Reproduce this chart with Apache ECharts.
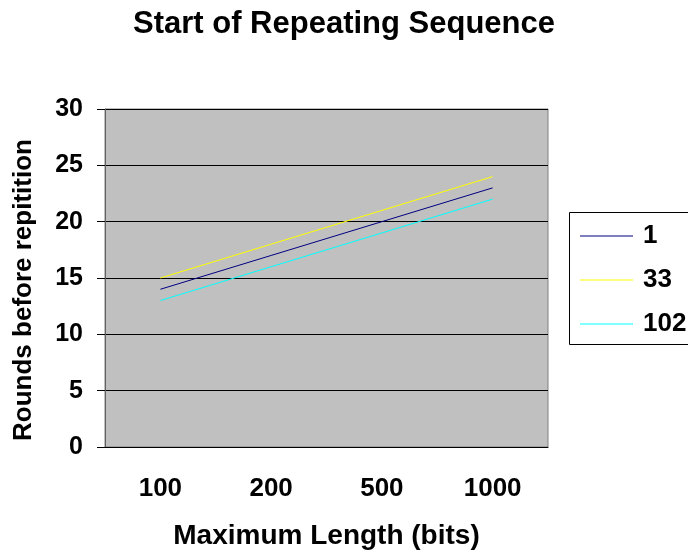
<!DOCTYPE html>
<html>
<head>
<meta charset="utf-8">
<script src="https://cdn.jsdelivr.net/npm/echarts@6/dist/echarts.min.js"></script>
<style>
  html, body { margin: 0; padding: 0; background: #fff; }
  #chart { width: 688px; height: 552px; }
</style>
</head>
<body>
<div id="chart"></div>
<script>
// ---- data ----
const categories = ["100", "200", "500", "1000"];
const seriesNames = ["1", "33", "102"];
const s1 = [14, 17, 20, 23];
const s33 = [15, 18, 21, 24];
const s102 = [13, 16, 19, 22];
const colors = ["#000080", "#ffff00", "#00ffff"];

const font = "Arial, 'Liberation Sans', sans-serif";
const chart = echarts.init(document.getElementById("chart"));

chart.setOption({
  animation: false,
  title: {
    text: "Start of Repeating Sequence",
    left: "center", top: 4,
    textStyle: { fontFamily: font, fontSize: 31, fontWeight: "bold", color: "#000" },
  },
  graphic: [{
    type: "rect", z: 0,
    shape: { x: 569.5, y: 212.5, width: 130, height: 132 },
    style: { fill: "#fff", stroke: "#000", lineWidth: 1 },
  }],
  legend: {
    orient: "vertical", left: 575, top: 218, z: 10,
    icon: "rect", itemWidth: 53, itemHeight: 1.2, itemGap: 18,
    data: seriesNames,
    textStyle: { fontFamily: font, fontSize: 26, lineHeight: 26, fontWeight: "bold", color: "#000", padding: [0, 0, 0, 5] },
  },
  grid: {
    left: 105, right: 140, top: 109, bottom: 105, outerBoundsMode: "none",
    show: true, backgroundColor: "#c0c0c0", borderColor: "#808080", borderWidth: 1,
  },
  xAxis: {
    type: "category", data: categories, boundaryGap: true,
    name: "Maximum Length (bits)", nameLocation: "middle", nameGap: 75,
    nameTextStyle: { fontFamily: font, fontSize: 28, fontWeight: "bold", color: "#000" },
    axisLine: { lineStyle: { color: "#000" } },
    axisTick: { length: 8, lineStyle: { color: "#808080" } },
    axisLabel: { margin: 29, fontFamily: font, fontSize: 26, fontWeight: "bold", color: "#000" },
  },
  yAxis: {
    type: "value", min: 0, max: 30, interval: 5,
    name: "Rounds before repitition", nameLocation: "middle", nameGap: 68,
    nameTextStyle: { fontFamily: font, fontSize: 26, fontWeight: "bold", color: "#000", padding: [0, 24, 0, 0] },
    axisLine: { show: true, lineStyle: { color: "#606060" } },
    axisTick: { show: true, length: 8, lineStyle: { color: "#000" } },
    axisLabel: { margin: 22, fontFamily: font, fontSize: 25, fontWeight: "bold", color: "#000" },
    splitLine: { lineStyle: { color: "#000", width: 1 } },
  },
  series: [
    { name: seriesNames[0], type: "line", data: s1, symbol: "none", lineStyle: { color: colors[0], width: 1 }, itemStyle: { color: colors[0] } },
    { name: seriesNames[1], type: "line", data: s33, symbol: "none", lineStyle: { color: colors[1], width: 1 }, itemStyle: { color: colors[1] } },
    { name: seriesNames[2], type: "line", data: s102, symbol: "none", lineStyle: { color: colors[2], width: 1 }, itemStyle: { color: colors[2] } },
  ],
});
</script>
</body>
</html>
